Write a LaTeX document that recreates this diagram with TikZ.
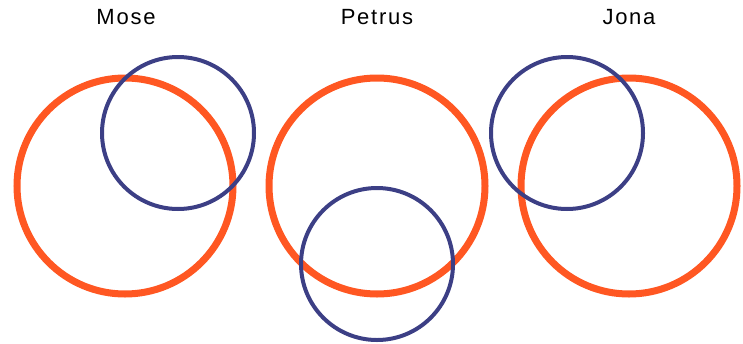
\documentclass[tikz,border=0pt]{standalone}
\usepackage{fontspec}
\setmainfont{Liberation Sans}[LetterSpace=8]
\definecolor{orangec}{HTML}{FF5722}
\definecolor{bluec}{HTML}{3C3F85}
\begin{document}
\begin{tikzpicture}[x=1pt,y=-1pt,
  ring/.style={draw=orangec,line width=7pt},
  inner/.style={draw=bluec,line width=4pt},
  label/.style={anchor=base,inner sep=0pt,font=\fontsize{22}{24}\selectfont}]
\useasboundingbox (0,0) rectangle (743,343);
\draw[ring] (125,186) circle[radius=108];
\draw[ring] (377,186) circle[radius=108];
\draw[ring] (629,186) circle[radius=108];
\draw[inner] (178,133) circle[radius=76];
\draw[inner] (377,264) circle[radius=76];
\draw[inner] (567,133) circle[radius=76];
\node[label] (mose) at (126,24) {Mose};
\node[label] (petrus) at (377,24) {Petrus};
\node[label] (jona) at (629,24) {Jona};
\end{tikzpicture}
\end{document}
